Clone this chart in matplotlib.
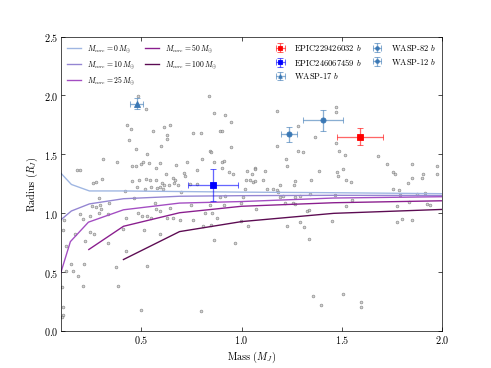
import numpy as np
import matplotlib
matplotlib.use('Agg')
import matplotlib.pyplot as plt

plt.rcParams['font.family'] = 'serif'
plt.rcParams['font.serif'] = ['cmr10', 'DejaVu Serif']
plt.rcParams['mathtext.fontset'] = 'cm'
plt.rcParams['axes.formatter.use_mathtext'] = True
plt.rcParams['xtick.direction'] = 'in'
plt.rcParams['ytick.direction'] = 'in'

# known planets (mass, radius) in Jupiter units
mass_pop = [0.484, 0.524, 0.836, 0.862, 0.919, 0.947, 0.429, 0.447, 0.644, 0.612,
            0.437, 0.557, 0.629, 0.625, 0.757, 0.799, 0.892, 0.902, 0.595, 0.474,
            0.527, 0.841, 0.849, 0.949, 0.307, 0.377, 0.452, 0.474, 0.497, 0.507,
            0.537, 0.572, 0.590, 0.674, 0.726, 0.802, 0.861, 0.904, 0.911, 0.901,
            0.177, 0.193, 0.624, 0.712, 0.719, 0.777, 0.939, 0.957, 0.305, 0.272,
            0.260, 0.454, 0.490, 0.524, 0.544, 0.574, 0.602, 0.612, 0.657, 0.665,
            0.660, 0.680, 0.635, 0.477, 0.520, 0.549, 0.579, 0.590, 0.607, 0.741,
            0.777, 0.287, 0.419, 0.465,
            # M > 1, upper
            1.470, 1.470, 1.179, 1.283, 1.368, 1.470, 1.178, 1.280, 1.308, 1.488,
            1.518, 1.682, 1.220, 1.228, 1.725, 1.850, 1.978, 1.028, 1.053, 1.068,
            1.066, 1.118, 1.388, 1.508, 1.475, 1.483, 1.758, 1.767, 1.908, 1.978,
            1.024, 1.041, 1.058, 1.068, 1.108, 1.266, 1.261, 1.348, 1.521, 1.545,
            1.853, 1.830, 1.900, 1.016, 1.128, 1.158, 1.179, 1.191, 1.758, 1.787,
            # band near the model curves
            1.182, 0.698, 0.890, 0.915, 1.007, 1.190, 1.207, 1.265, 1.290, 1.340,
            1.466, 1.549, 1.791, 1.878, 1.916, 0.748, 0.840, 0.910, 0.999, 1.215,
            1.257, 1.265, 1.519, 1.774, 1.838, 1.924, 1.941, 0.815, 0.852, 1.070,
            1.324, 1.337, 0.690, 0.757, 0.877, 0.999, 1.032, 1.227, 1.290, 1.310,
            1.449, 1.778, 1.799, 1.849, 0.807, 0.848, 1.336,
            # low radius
            1.358, 1.398, 1.508, 1.598, 1.598, 0.969, 0.799, 0.861,
            0.565, 0.253, 0.273, 0.295, 0.298, 0.337, 0.193, 0.207, 0.245, 0.287,
            0.332, 0.424, 0.482, 0.504, 0.527, 0.549, 0.574, 0.590, 0.627, 0.657,
            0.640, 0.115, 0.110, 0.168, 0.123, 0.217, 0.245, 0.262, 0.332, 0.410,
            0.512, 0.590, 0.424, 0.148, 0.215, 0.123, 0.157, 0.182, 0.374, 0.527,
            0.207, 0.382, 0.103, 0.107, 0.107, 0.103, 0.497]
radius_pop = [1.994, 1.889, 1.994, 1.855, 1.832, 1.776, 1.753, 1.719, 1.753, 1.730,
              1.620, 1.699, 1.662, 1.628, 1.685, 1.685, 1.699, 1.699, 1.572, 1.549,
              1.501, 1.529, 1.521, 1.560, 1.461, 1.433, 1.402, 1.404, 1.416, 1.436,
              1.430, 1.388, 1.430, 1.413, 1.433, 1.458, 1.439, 1.439, 1.444, 1.385,
              1.371, 1.371, 1.331, 1.339, 1.314, 1.365, 1.348, 1.336, 1.294, 1.266,
              1.254, 1.271, 1.285, 1.291, 1.280, 1.285, 1.254, 1.237, 1.302, 1.280,
              1.260, 1.237, 1.243, 1.223, 1.209, 1.223, 1.217, 1.223, 1.209, 1.251,
              1.246, 1.130, 1.186, 1.132,
              1.903, 1.861, 1.866, 1.745, 1.648, 1.597, 1.569, 1.532, 1.524, 1.526,
              1.498, 1.490, 1.464, 1.399, 1.416, 1.416, 1.399, 1.359, 1.331, 1.385,
              1.373, 1.362, 1.362, 1.379, 1.348, 1.317, 1.351, 1.336, 1.336, 1.336,
              1.280, 1.280, 1.266, 1.271, 1.285, 1.274, 1.237, 1.285, 1.285, 1.269,
              1.302, 1.260, 1.297, 1.203, 1.209, 1.206, 1.200, 1.237, 1.209, 1.195,
              1.181, 1.181, 1.138, 1.144, 1.138, 1.138, 1.144, 1.138, 1.144, 1.161,
              1.152, 1.110, 1.152, 1.161, 1.172, 1.067, 1.067, 1.067, 1.087, 1.087,
              1.087, 1.082, 1.059, 1.059, 1.096, 1.082, 1.067, 1.005, 1.005, 1.039,
              1.019, 1.031, 0.940, 0.940, 0.960, 0.934, 0.889, 0.889, 0.926, 0.883,
              0.934, 0.926, 0.954, 0.940, 0.889, 0.897, 0.778,
              0.302, 0.223, 0.316, 0.251, 0.209, 0.747, 0.169, 0.776,
              1.087, 1.062, 1.053, 1.070, 1.039, 1.087, 0.991, 0.954, 0.977, 1.002,
              0.997, 0.960, 1.002, 0.974, 0.974, 0.963, 1.033, 1.016, 0.960, 0.960,
              1.045, 0.940, 0.855, 0.821, 0.727, 0.764, 0.841, 0.821, 0.750, 0.869,
              0.861, 0.827, 0.679, 0.572, 0.572, 0.509, 0.509, 0.467, 0.543, 0.549,
              0.387, 0.382, 0.379, 0.209, 0.138, 0.124, 0.180]

# model radii for different core masses
model_labels = [r'$M_{core} = 0\,M_{\oplus}$', r'$M_{core} = 10\,M_{\oplus}$',
                r'$M_{core} = 25\,M_{\oplus}$', r'$M_{core} = 50\,M_{\oplus}$',
                r'$M_{core} = 100\,M_{\oplus}$']
model_colors = ['#9fb6e2', '#9485d2', '#a34dc2', '#8a1e8e', '#5c0b52']
m0_mass = [0.052, 0.087, 0.15, 0.24, 0.41, 0.69, 1.0, 1.46, 2.44]
m0_rad = [1.55, 1.36, 1.245, 1.19, 1.19, 1.185, 1.18, 1.175, 1.16]
m10_mass = [0.052, 0.087, 0.15, 0.24, 0.41, 0.69, 1.0, 1.46, 2.44]
m10_rad = [0.70, 0.93, 1.02, 1.08, 1.124, 1.145, 1.15, 1.153, 1.15]
m25_mass = [0.087, 0.145, 0.235, 0.41, 0.69, 1.0, 1.46, 2.44]
m25_rad = [0.44, 0.76, 0.925, 1.03, 1.087, 1.10, 1.13, 1.15]
m50_mass = [0.237, 0.41, 0.69, 1.0, 1.46, 2.44]
m50_rad = [0.693, 0.89, 1.005, 1.06, 1.09, 1.12]
m100_mass = [0.41, 0.69, 1.0, 1.46, 2.44]
m100_rad = [0.608, 0.845, 0.93, 1.0, 1.06]

# highlighted planets
names = ['EPIC229426032 $b$', 'EPIC246067459 $b$', 'WASP-17 $b$', 'WASP-82 $b$', 'WASP-12 $b$']
p_mass = [1.59, 0.857, 0.477, 1.236, 1.408]
p_mass_err = [0.114, 0.124, 0.033, 0.039, 0.10]
p_rad = [1.648, 1.243, 1.932, 1.671, 1.79]
p_rad_err = [0.072, 0.135, 0.05, 0.064, 0.09]
p_colors = ['red', 'blue', '#3a78b5', '#3a78b5', '#3a78b5']
p_markers = ['s', 's', '^', 'o', 'o']

fig = plt.figure(figsize=(8, 6), dpi=61.375)
ax = fig.add_subplot(111)
fig.subplots_adjust(left=0.125, right=0.9, bottom=0.1, top=0.9)

ax.plot(mass_pop, radius_pop, 'o', ms=3.2, mfc='#c8c8c8', mec='#707070', mew=0.8,
        alpha=0.75, zorder=1)

model_m = [m0_mass, m10_mass, m25_mass, m50_mass, m100_mass]
model_r = [m0_rad, m10_rad, m25_rad, m50_rad, m100_rad]
lines = []
for mm, rr, c, lab in zip(model_m, model_r, model_colors, model_labels):
    l, = ax.plot(mm, rr, '-', color=c, lw=1.6, label=lab, zorder=2)
    lines.append(l)

handles = []
for i in range(len(names)):
    h = ax.errorbar(p_mass[i], p_rad[i], xerr=p_mass_err[i], yerr=p_rad_err[i],
                    fmt=p_markers[i], color=p_colors[i], ms=6, ecolor=p_colors[i],
                    elinewidth=1.5, capsize=3, capthick=1.2, label=names[i], zorder=4)
    for lc in h[1]:
        lc.set_alpha(0.6)
    for lc in h[2]:
        lc.set_alpha(0.6)
    handles.append(h)

ax.set_xlim(0.1, 2.0)
ax.set_ylim(0.0, 2.5)
ax.set_xticks([0.5, 1.0, 1.5, 2.0])
ax.set_yticks([0.0, 0.5, 1.0, 1.5, 2.0, 2.5])
ax.tick_params(top=True, right=True, labelsize=12, length=5)
ax.set_xlabel(r'Mass ($M_J$)', fontsize=12)
ax.set_ylabel(r'Radius ($R_J$)', fontsize=12)

leg1 = ax.legend(handles=lines, loc='upper left', ncol=2, frameon=False, fontsize=9,
                 borderaxespad=0.3, columnspacing=1.3, labelspacing=0.5,
                 handlelength=1.8, handletextpad=0.8)
ax.add_artist(leg1)
ax.legend(handles=handles, loc='upper right', ncol=2, frameon=False, fontsize=10,
          borderaxespad=0.3, columnspacing=1.0, labelspacing=0.45, handlelength=1.6,
          handletextpad=0.8, markerscale=0.7)

fig.savefig('out.png', dpi=61.375)
